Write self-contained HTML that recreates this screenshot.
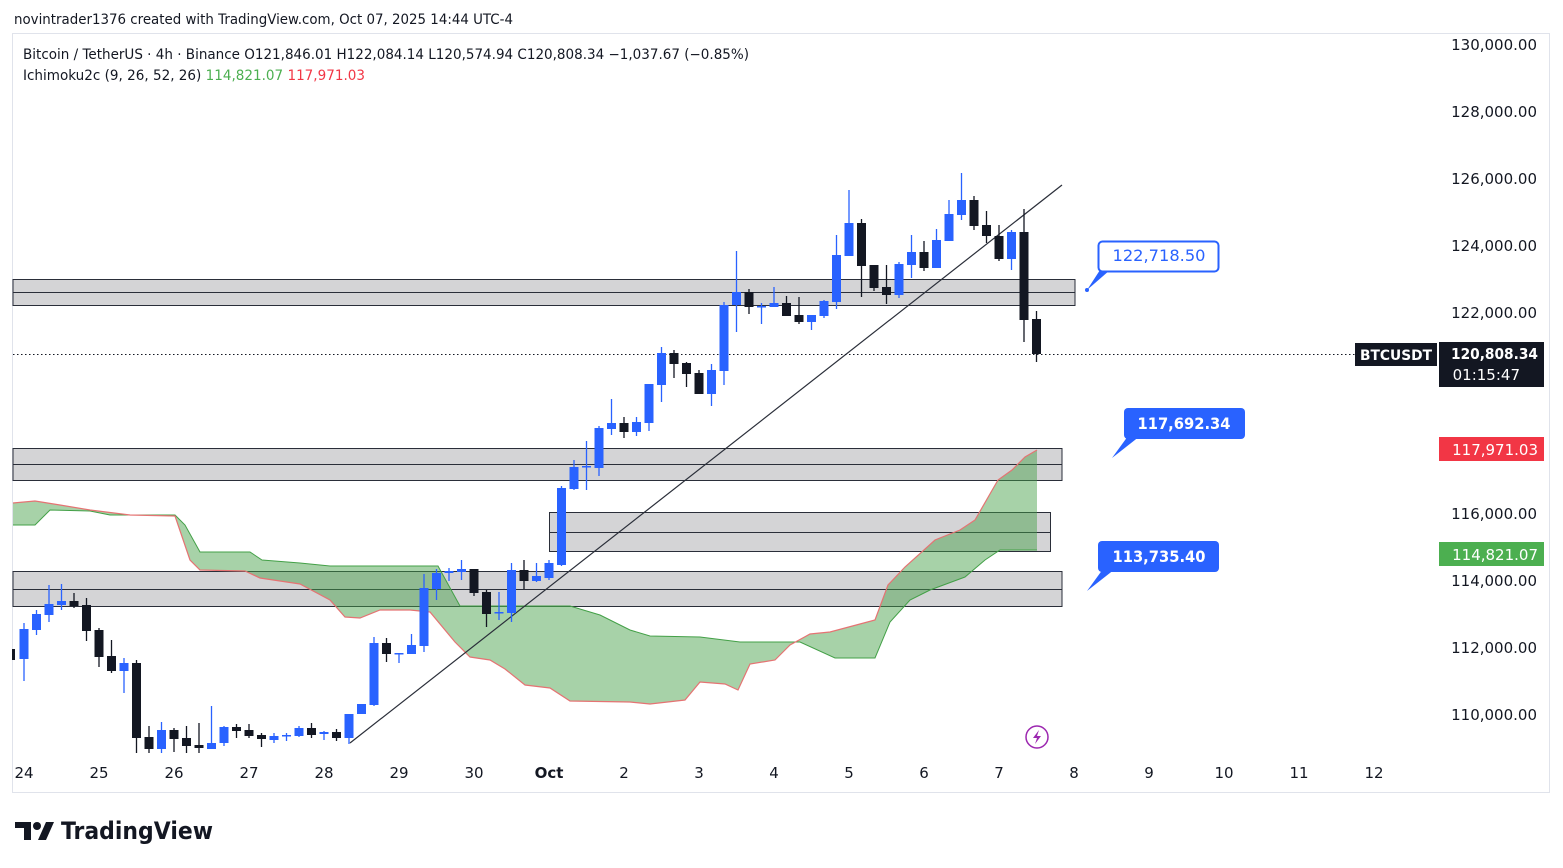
<!DOCTYPE html>
<html><head><meta charset="utf-8"><style>
body{margin:0;background:#fff;width:1563px;height:868px;overflow:hidden;font-family:"DejaVu Sans",sans-serif}
svg{position:absolute;left:0;top:0}
</style></head><body>
<svg id="s" width="1563" height="868" xmlns="http://www.w3.org/2000/svg" font-family="DejaVu Sans, sans-serif">
<rect x="12.5" y="33.5" width="1537" height="759" fill="none" stroke="#e0e3eb"/>
<text x="14" y="24" font-size="14" fill="#131722" textLength="499" lengthAdjust="spacingAndGlyphs">novintrader1376 created with TradingView.com, Oct 07, 2025 14:44 UTC-4</text>
<text x="23" y="59" font-size="14" fill="#131722" textLength="726" lengthAdjust="spacingAndGlyphs">Bitcoin / TetherUS · 4h · Binance  O121,846.01  H122,084.14  L120,574.94  C120,808.34  −1,037.67 (−0.85%)</text>
<text x="23" y="80" font-size="14" fill="#131722" textLength="342" lengthAdjust="spacingAndGlyphs">Ichimoku2c (9, 26, 52, 26) <tspan fill="#4caf50">114,821.07</tspan> <tspan fill="#f23645">117,971.03</tspan></text>
<g fill="#d4d4d6" stroke="#2a2e39" stroke-width="1">
<rect x="13" y="279.5" width="1062" height="26"/><line x1="13" y1="292.5" x2="1075" y2="292.5"/>
<rect x="13" y="448.5" width="1049" height="32"/><line x1="13" y1="464.5" x2="1062" y2="464.5"/>
<rect x="549.5" y="512.5" width="501" height="39"/><line x1="549" y1="532.5" x2="1050" y2="532.5"/>
<rect x="13" y="571.5" width="1049" height="35"/><line x1="13" y1="589.5" x2="1062" y2="589.5"/>
</g>
<g id="cloud"></g>
<line x1="350" y1="743" x2="1062" y2="185" stroke="#2a2e39" stroke-width="1.2"/>
<line x1="13" y1="354.5" x2="1437" y2="354.5" stroke="#131722" stroke-dasharray="1.5,2.5"/>
<g id="c"></g>
<g font-size="15" fill="#131722" text-anchor="end">
<text x="1537" y="50">130,000.00</text><text x="1537" y="117">128,000.00</text><text x="1537" y="184">126,000.00</text>
<text x="1537" y="251">124,000.00</text><text x="1537" y="318">122,000.00</text><text x="1537" y="519">116,000.00</text>
<text x="1537" y="586">114,000.00</text><text x="1537" y="653">112,000.00</text><text x="1537" y="720">110,000.00</text>
</g>
<g font-size="15" fill="#131722" text-anchor="middle">
<text x="24" y="778">24</text><text x="99" y="778">25</text><text x="174" y="778">26</text><text x="249" y="778">27</text>
<text x="324" y="778">28</text><text x="399" y="778">29</text><text x="474" y="778">30</text><text x="549" y="778" font-weight="bold">Oct</text>
<text x="624" y="778">2</text><text x="699" y="778">3</text><text x="774" y="778">4</text><text x="849" y="778">5</text>
<text x="924" y="778">6</text><text x="999" y="778">7</text><text x="1074" y="778">8</text><text x="1149" y="778">9</text>
<text x="1224" y="778">10</text><text x="1299" y="778">11</text><text x="1374" y="778">12</text>
</g>
<rect x="1355" y="343" width="82" height="23" fill="#131722"/><text x="1396" y="360" font-size="14" font-weight="bold" fill="#fff" text-anchor="middle" textLength="72" lengthAdjust="spacingAndGlyphs">BTCUSDT</text>
<rect x="1439" y="342" width="105" height="45" fill="#131722"/>
<text x="1538" y="359" font-size="15" font-weight="bold" fill="#fff" text-anchor="end" textLength="87" lengthAdjust="spacingAndGlyphs">120,808.34</text>
<text x="1520" y="380" font-size="15" fill="#fff" text-anchor="end">01:15:47</text>
<rect x="1439" y="437" width="105" height="24" fill="#f23645"/><text x="1538" y="455" font-size="15" fill="#fff" text-anchor="end">117,971.03</text>
<rect x="1439" y="542" width="105" height="24" fill="#4caf50"/><text x="1538" y="560" font-size="15" fill="#fff" text-anchor="end">114,821.07</text>
<path d="M1087,290 L1110,270 L1100,270 Z" fill="#2962ff"/>
<rect x="1098.5" y="241.5" width="120" height="30" rx="4" fill="#fff" stroke="#2962ff" stroke-width="2"/>
<text x="1159" y="261" font-size="16" fill="#2962ff" text-anchor="middle" textLength="93" lengthAdjust="spacingAndGlyphs">122,718.50</text>
<circle cx="1087" cy="290" r="2" fill="#2962ff"/>
<path d="M1112,458 L1140,436 L1128,436 Z" fill="#2962ff"/>
<rect x="1124" y="408" width="121" height="31" rx="4" fill="#2962ff"/>
<text x="1184" y="429" font-size="16" font-weight="bold" fill="#fff" text-anchor="middle" textLength="93" lengthAdjust="spacingAndGlyphs">117,692.34</text>
<path d="M1087,591 L1115,569 L1103,569 Z" fill="#2962ff"/>
<rect x="1098" y="541" width="121" height="31" rx="4" fill="#2962ff"/>
<text x="1159" y="562" font-size="16" font-weight="bold" fill="#fff" text-anchor="middle" textLength="93" lengthAdjust="spacingAndGlyphs">113,735.40</text>
<circle cx="1037" cy="737" r="11" fill="#fff" stroke="#9c27b0" stroke-width="1.5"/>
<path d="M1039,730 L1033,738 L1037,738 L1035,744 L1041,736 L1037,736 Z" fill="#9c27b0"/>
<path d="M15,822 h16 v18 h-7 v-12 h-9 z M38,840 l8,-18 h8 l-8,18 z" fill="#131722"/><circle cx="37" cy="826" r="4" fill="#131722"/>
<text x="61" y="839" font-size="24" font-weight="bold" fill="#131722" textLength="152" lengthAdjust="spacingAndGlyphs">TradingView</text>
</svg>
<script>
const NS="http://www.w3.org/2000/svg";
const A=[[13,525],[35,525],[50,510],[90,511],[110,515],[175,515],[185,525],[200,552],[250,552],[262,560],[300,563],[330,566],[438,566],[460,606],[570,606],[600,615],[630,630],[650,636],[700,637],[740,642],[800,642],[835,658],[875,658],[890,622],[910,600],[930,590],[965,577],[985,560],[1000,550],[1037,550]];
const B=[[13,503],[35,501],[60,505],[90,510],[130,515],[175,516],[190,560],[200,570],[245,571],[260,578],[300,584],[330,600],[345,617],[360,618],[380,610],[410,610],[430,612],[455,642],[470,657],[490,660],[505,669],[525,685],[550,688],[570,701],[630,702],[650,704],[685,700],[700,682],[725,684],[738,690],[750,664],[775,660],[790,645],[810,634],[830,632],[860,624],[875,620],[888,585],[905,567],[935,540],[960,530],[975,520],[998,480],[1012,470],[1025,457],[1037,450]];
const cl=document.getElementById('cloud');
function el(n,a,p){const e=document.createElementNS(NS,n);for(const k in a)e.setAttribute(k,a[k]);p.appendChild(e);return e;}
el('polygon',{points:A.concat(B.slice().reverse()).map(p=>p.join(',')).join(' '),fill:'rgb(67,160,71)','fill-opacity':0.47},cl);
el('polyline',{points:A.map(p=>p.join(',')).join(' '),fill:'none',stroke:'#43a047','stroke-width':1},cl);
el('polyline',{points:B.map(p=>p.join(',')).join(' '),fill:'none',stroke:'#e57373','stroke-width':1.2},cl);
const C=[[659,629,623,681,1],[630,614,610,635,1],[615,604,585,622,1],[605,601,584,610,1],[601,606,593,608,0],[605,631,598,641,0],[630,657,628,667,0],[656,671,640,673,0],[671,663,658,693,1],[663,738,660,753,0],[737,749,726,753,0],[749,730,722,753,1],[730,739,728,752,0],[738,746,726,753,0],[745,748,723,753,0],[749,743,706,749,1],[743,727,726,746,1],[727,731,724,738,0],[730,736,724,738,0],[735,739,733,747,0],[740,736,733,743,1],[736,735,733,741,1],[736,728,726,737,1],[728,735,723,738,0],[734,732,731,740,1],[732,738,729,741,0],[738,714,714,744,1],[714,704,704,714,1],[705,643,637,706,1],[643,654,638,662,0],[654,653,653,663,1],[654,645,634,654,1],[646,588,574,652,1],[589,573,569,600,1],[573,571,568,581,1],[572,569,560,580,1],[569,593,569,596,0],[592,614,590,627,0],[613,612,592,620,1],[613,570,563,622,1],[570,581,560,589,0],[581,576,563,582,1],[578,563,560,580,1],[565,488,486,566,1],[489,467,460,490,1],[467,466,441,490,1],[468,428,426,476,1],[429,423,399,435,1],[423,432,417,438,0],[432,422,417,436,1],[423,384,384,431,1],[385,353,347,402,1],[353,364,350,378,0],[363,374,362,387,0],[373,394,370,394,0],[394,370,364,406,1],[371,305,302,385,1],[305,292,251,332,1],[292,307,289,314,0],[307,306,303,324,1],[307,303,287,307,1],[303,316,296,316,0],[315,322,297,324,0],[322,315,315,330,1],[316,301,300,318,1],[302,255,235,309,1],[256,223,190,256,1],[223,266,219,297,0],[265,288,265,291,0],[287,295,265,304,0],[295,264,262,298,1],[265,252,235,278,1],[252,268,241,271,0],[268,240,229,268,1],[241,214,200,241,1],[215,200,173,220,1],[200,226,196,230,0],[225,236,211,243,0],[236,259,225,261,0],[259,232,230,270,1],[232,320,209,342,0],[319,354,311,362,0]];
const g=document.getElementById('c');
el('rect',{x:12,y:649,width:3,height:11,fill:'#131722'},g);
C.forEach((c,i)=>{const x=24+12.5*i;const col=c[4]?'#2962ff':'#131722';
el('line',{x1:x,y1:c[2],x2:x,y2:c[3],stroke:col,'stroke-width':1.3},g);
const t=Math.min(c[0],c[1]),h=Math.max(1.5,Math.abs(c[0]-c[1]));
el('rect',{x:x-4.5,y:t,width:9,height:h,fill:col},g);});
</script>
</body></html>
